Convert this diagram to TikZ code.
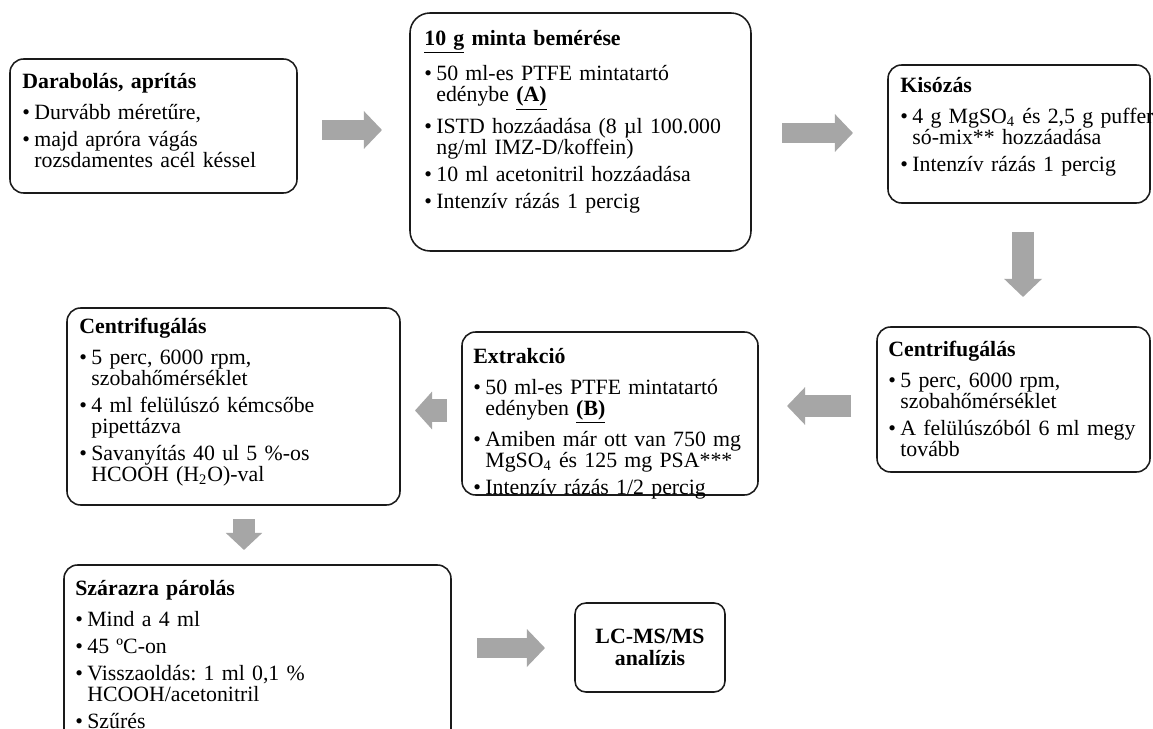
\documentclass[tikz,border=0pt]{standalone}
\usepackage{fontspec}
\setmainfont{Liberation Serif}
\usetikzlibrary{arrows.meta,fit}
\definecolor{arrgray}{HTML}{A6A6A6}
\definecolor{boxline}{HTML}{1A1A1A}
\frenchspacing
\newcommand\bi{\par\hangindent=6.6pt\hangafter=1\noindent\makebox[6.6pt][l]{\textbullet}}
\newcommand\ttl[1]{\noindent\rule{0pt}{9.9pt}\textbf{#1}\par\vspace{2.2pt}}
\tikzset{
  x={(0.55pt,0)}, y={(0,-0.55pt)},
  procbox/.style={draw=boxline, line width=0.85pt, rounded corners=7.5pt, inner sep=0pt, fill=white},
  txt/.style={anchor=north west, inner sep=0pt, text width=300pt,
    font=\fontsize{12}{11.55}\selectfont\frenchspacing\setlength{\parskip}{3.3pt}},
  barrow/.style={arrgray, line width=#1, -{Triangle[length=10pt,width=20.3pt]}},
  barrow/.default=11pt
}
\begin{document}
\begin{tikzpicture}
\useasboundingbox (0,0) rectangle (1153,729);
\clip (0,0) rectangle (1153,729);
\fill[white] (0,0) rectangle (1153,729);

% boxes
\node[procbox, fit={(10,59) (297,193)}] (b1) {};
\node[procbox, rounded corners=11pt, fit={(410,13) (751,251)}] (b2) {};
\node[procbox, fit={(888,65) (1150,203)}] (b3) {};
\node[procbox, fit={(877,327) (1150,472)}] (b4) {};
\node[procbox, fit={(462,332) (758,495)}] (b5) {};
\node[procbox, fit={(67,308) (400,505)}] (b6) {};
\node[procbox, fit={(64,565) (451,750)}] (b7) {};
\node[procbox, rounded corners=6pt, fit={(575,603) (725,692)}] (b8) {};

% texts
\node[txt] (t1) at (22,70) {\ttl{Darabolás, aprítás}%
\bi Durvább méretűre,
\bi majd apróra vágás\newline rozsdamentes acél késsel\par};

\node[txt] (t2) at (424,27) {\ttl{\underline{10 g} minta bemérése}%
\bi 50 ml-es PTFE mintatartó\newline edénybe \textbf{\underline{(A)}}
\bi ISTD hozzáadása (8 µl 100.000\newline ng/ml IMZ-D/koffein)
\bi 10 ml acetonitril hozzáadása
\bi Intenzív rázás 1 percig\par};

\node[txt] (t3) at (900,74) {\ttl{Kisózás}%
\bi 4 g MgSO\textsubscript{4} és 2,5 g puffer\newline só-mix** hozzáadása
\bi Intenzív rázás 1 percig\par};

\node[txt] (t4) at (888,338) {\ttl{Centrifugálás}%
\bi 5 perc, 6000 rpm,\newline szobahőmérséklet
\bi A felülúszóból 6 ml megy\newline tovább\par};

\node[txt] (t5) at (473,345) {\ttl{Extrakció}%
\bi 50 ml-es PTFE mintatartó\newline edényben \textbf{\underline{(B)}}
\bi Amiben már ott van 750 mg\newline MgSO\textsubscript{4} és 125 mg PSA***
\bi Intenzív rázás 1/2 percig\par};

\node[txt] (t6) at (79,315) {\ttl{Centrifugálás}%
\bi 5 perc, 6000 rpm,\newline szobahőmérséklet
\bi 4 ml felülúszó kémcsőbe\newline pipettázva
\bi Savanyítás 40 ul 5 \%-os\newline HCOOH (H\textsubscript{2}O)-val\par};

\node[txt] (t7) at (75,577) {\ttl{Szárazra párolás}%
\bi Mind a 4 ml
\bi 45 ºC-on
\bi Visszaoldás: 1 ml 0,1 \%\newline HCOOH/acetonitril
\bi Szűrés\par};

\node[anchor=north, inner sep=0pt, align=center, font=\fontsize{12}{12.1}\selectfont\bfseries] (t8) at (650,625)
  {\rule{0pt}{9.9pt}LC-MS/MS\\analízis};

% arrow end points
\coordinate (a1s) at (322,130); \coordinate (a1e) at (382,130);
\coordinate (a2s) at (782,133); \coordinate (a2e) at (853,133);
\coordinate (a3s) at (1023,232); \coordinate (a3e) at (1023,297);
\coordinate (a4s) at (851,406); \coordinate (a4e) at (787,406);
\coordinate (a5s) at (447,410.5); \coordinate (a5e) at (415,410.5);
\coordinate (a6s) at (244,519); \coordinate (a6e) at (244,550);
\coordinate (a7s) at (477,648); \coordinate (a7e) at (545,648);

\draw[barrow=10.5pt] (a1s) -- (a1e);
\draw[barrow=10.5pt] (a2s) -- (a2e);
\draw[barrow=12pt] (a3s) -- (a3e);
\draw[barrow=12pt] (a4s) -- (a4e);
\draw[barrow=13pt, -{Triangle[length=9.4pt,width=20.3pt]}] (a5s) -- (a5e);
\draw[barrow=12pt, -{Triangle[length=9.4pt,width=19.5pt]}] (a6s) -- (a6e);
\draw[barrow=11pt] (a7s) -- (a7e);
\end{tikzpicture}
\end{document}
